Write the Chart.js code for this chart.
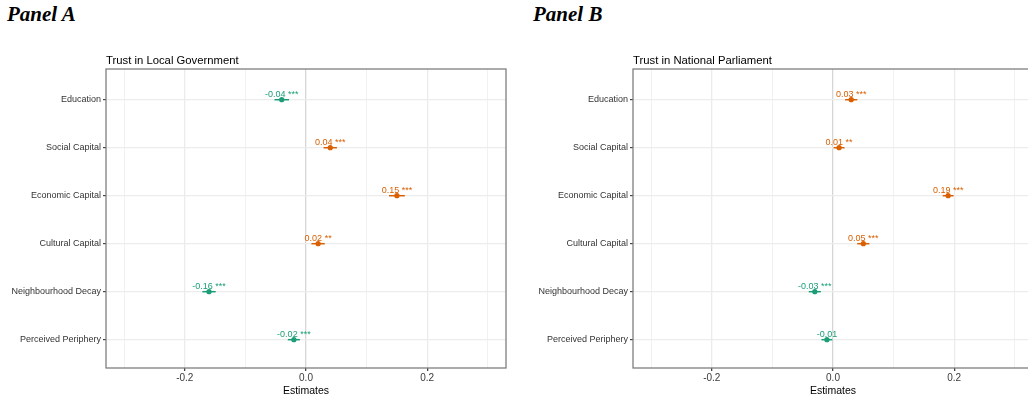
<!DOCTYPE html>
<html>
<head>
<meta charset="utf-8">
<script src="https://cdn.jsdelivr.net/npm/chart.js@4.4.1/dist/chart.umd.min.js"></script>
<style>
  html, body { margin: 0; padding: 0; background: #fff; width: 1028px; height: 397px; overflow: hidden; }
  .panel-tag { position: absolute; top: 4px; font: italic bold 21px "Liberation Serif", "Times New Roman", serif; color: #000; line-height: 1; }
  canvas { position: absolute; top: 0; }
</style>
</head>
<body>
<div class="panel-tag" style="left:7px">Panel A</div>
<div class="panel-tag" style="left:533px">Panel B</div>
<canvas id="chartA" width="515" height="397" style="left:0px"></canvas>
<canvas id="chartB" width="520" height="397" style="left:520px"></canvas>
<script>
// Predictors, top to bottom
const CATEGORIES = ['Education', 'Social Capital', 'Economic Capital', 'Cultural Capital', 'Neighbourhood Decay', 'Perceived Periphery'];
const X_TICKS = [-0.3, -0.2, -0.1, 0, 0.1, 0.2, 0.3];
const X_MAJOR = [-0.2, 0, 0.2];

// Trust in Local Government
const TITLE_A = 'Trust in Local Government';
const EST_A = [-0.04, 0.04, 0.15, 0.02, -0.16, -0.02];
const LO_A = [-0.052, 0.029, 0.137, 0.009, -0.171, -0.030];
const HI_A = [-0.028, 0.051, 0.163, 0.031, -0.149, -0.010];
const STARS_A = ['***', '***', '***', '**', '***', '***'];

// Trust in National Parliament
const TITLE_B = 'Trust in National Parliament';
const EST_B = [0.03, 0.01, 0.19, 0.05, -0.03, -0.01];
const LO_B = [0.020, 0.001, 0.181, 0.040, -0.040, -0.019];
const HI_B = [0.040, 0.019, 0.199, 0.060, -0.020, -0.001];
const STARS_B = ['***', '**', '***', '***', '***', ''];

const POS_COLOR = '#d95f02';
const NEG_COLOR = '#1b9e77';
const SANS = '"Liberation Sans", Arial, sans-serif';

function colorFor(v) { return v >= 0 ? POS_COLOR : NEG_COLOR; }

// Panel frame, title and value labels
const decorations = {
  id: 'decorations',
  afterDatasetsDraw(chart, args, opts) {
    const ctx = chart.ctx;
    const a = chart.chartArea;
    ctx.save();
    // value labels above each estimate
    const meta = chart.getDatasetMeta(chart.data.datasets.length - 1);
    ctx.font = '9px ' + SANS;
    ctx.textAlign = 'center';
    ctx.textBaseline = 'alphabetic';
    meta.data.forEach((el, i) => {
      const v = opts.est[i];
      const txt = v.toFixed(2) + (opts.stars[i] ? ' ' + opts.stars[i] : '');
      ctx.fillStyle = colorFor(v);
      ctx.fillText(txt, el.x, el.y - 2.5);
    });
    // frame
    ctx.strokeStyle = '#7f7f7f';
    ctx.lineWidth = 1.3;
    ctx.strokeRect(a.left, a.top, a.right - a.left, a.bottom - a.top);
    // plot title
    ctx.fillStyle = '#000';
    ctx.font = '11.3px ' + SANS;
    ctx.textAlign = 'left';
    ctx.textBaseline = 'middle';
    ctx.fillText(opts.title, a.left, a.top - 8.5);
    ctx.restore();
  }
};

function buildChart(id, title, est, lo, hi, stars, yWidth, padRight) {
  const datasets = [];
  est.forEach((v, i) => {
    datasets.push({
      type: 'line',
      data: [{ x: lo[i], y: i + 1 }, { x: hi[i], y: i + 1 }],
      borderColor: colorFor(v),
      borderWidth: 1.5,
      pointRadius: 0,
      showLine: true,
      fill: false
    });
  });
  datasets.push({
    type: 'scatter',
    data: est.map((v, i) => ({ x: v, y: i + 1 })),
    pointBackgroundColor: est.map(colorFor),
    pointBorderColor: est.map(colorFor),
    pointRadius: 2.6,
    pointBorderWidth: 0
  });

  return new Chart(document.getElementById(id), {
    type: 'scatter',
    data: { datasets },
    options: {
      responsive: false,
      animation: false,
      devicePixelRatio: 1,
      layout: { padding: { top: 69, right: padRight, left: 0, bottom: 0 } },
      plugins: {
        legend: { display: false },
        tooltip: { enabled: false },
        decorations: { title, est, stars }
      },
      scales: {
        x: {
          type: 'linear',
          min: -0.33,
          max: 0.33,
          afterBuildTicks: s => { s.ticks = X_TICKS.map(v => ({ value: v })); },
          afterFit: s => { s.height = 29; },
          border: { display: false },
          grid: {
            color: c => (c.tick && c.tick.value === 0) ? '#d6d6d6' : '#ebebeb',
            lineWidth: c => (c.tick && X_MAJOR.includes(c.tick.value)) ? 1.3 : 0.7,
            tickLength: 3,
            tickColor: c => (c.tick && X_MAJOR.includes(c.tick.value)) ? '#444' : 'rgba(0,0,0,0)'
          },
          ticks: {
            autoSkip: false,
            maxRotation: 0,
            padding: 1.5,
            color: '#3a3a3a',
            font: { family: SANS, size: 10 },
            callback: v => X_MAJOR.includes(v) ? v.toFixed(1) : ''
          },
          title: {
            display: true,
            text: 'Estimates',
            color: '#000',
            font: { family: SANS, size: 10.5 },
            padding: { top: 0, bottom: 0 }
          }
        },
        y: {
          type: 'linear',
          reverse: true,
          min: 0.36,
          max: 6.59,
          afterBuildTicks: s => { s.ticks = CATEGORIES.map((c, i) => ({ value: i + 1 })); },
          afterFit: s => { s.width = yWidth; },
          border: { display: false },
          grid: {
            color: '#ececec',
            lineWidth: 1.2,
            tickLength: 3,
            tickColor: '#444'
          },
          ticks: {
            autoSkip: false,
            padding: 2,
            color: '#333',
            font: { family: SANS, size: 9 },
            callback: v => CATEGORIES[v - 1]
          }
        }
      }
    },
    plugins: [decorations]
  });
}

buildChart('chartA', TITLE_A, EST_A, LO_A, HI_A, STARS_A, 106, 9);
buildChart('chartB', TITLE_B, EST_B, LO_B, HI_B, STARS_B, 113, 7);
</script>
</body>
</html>
